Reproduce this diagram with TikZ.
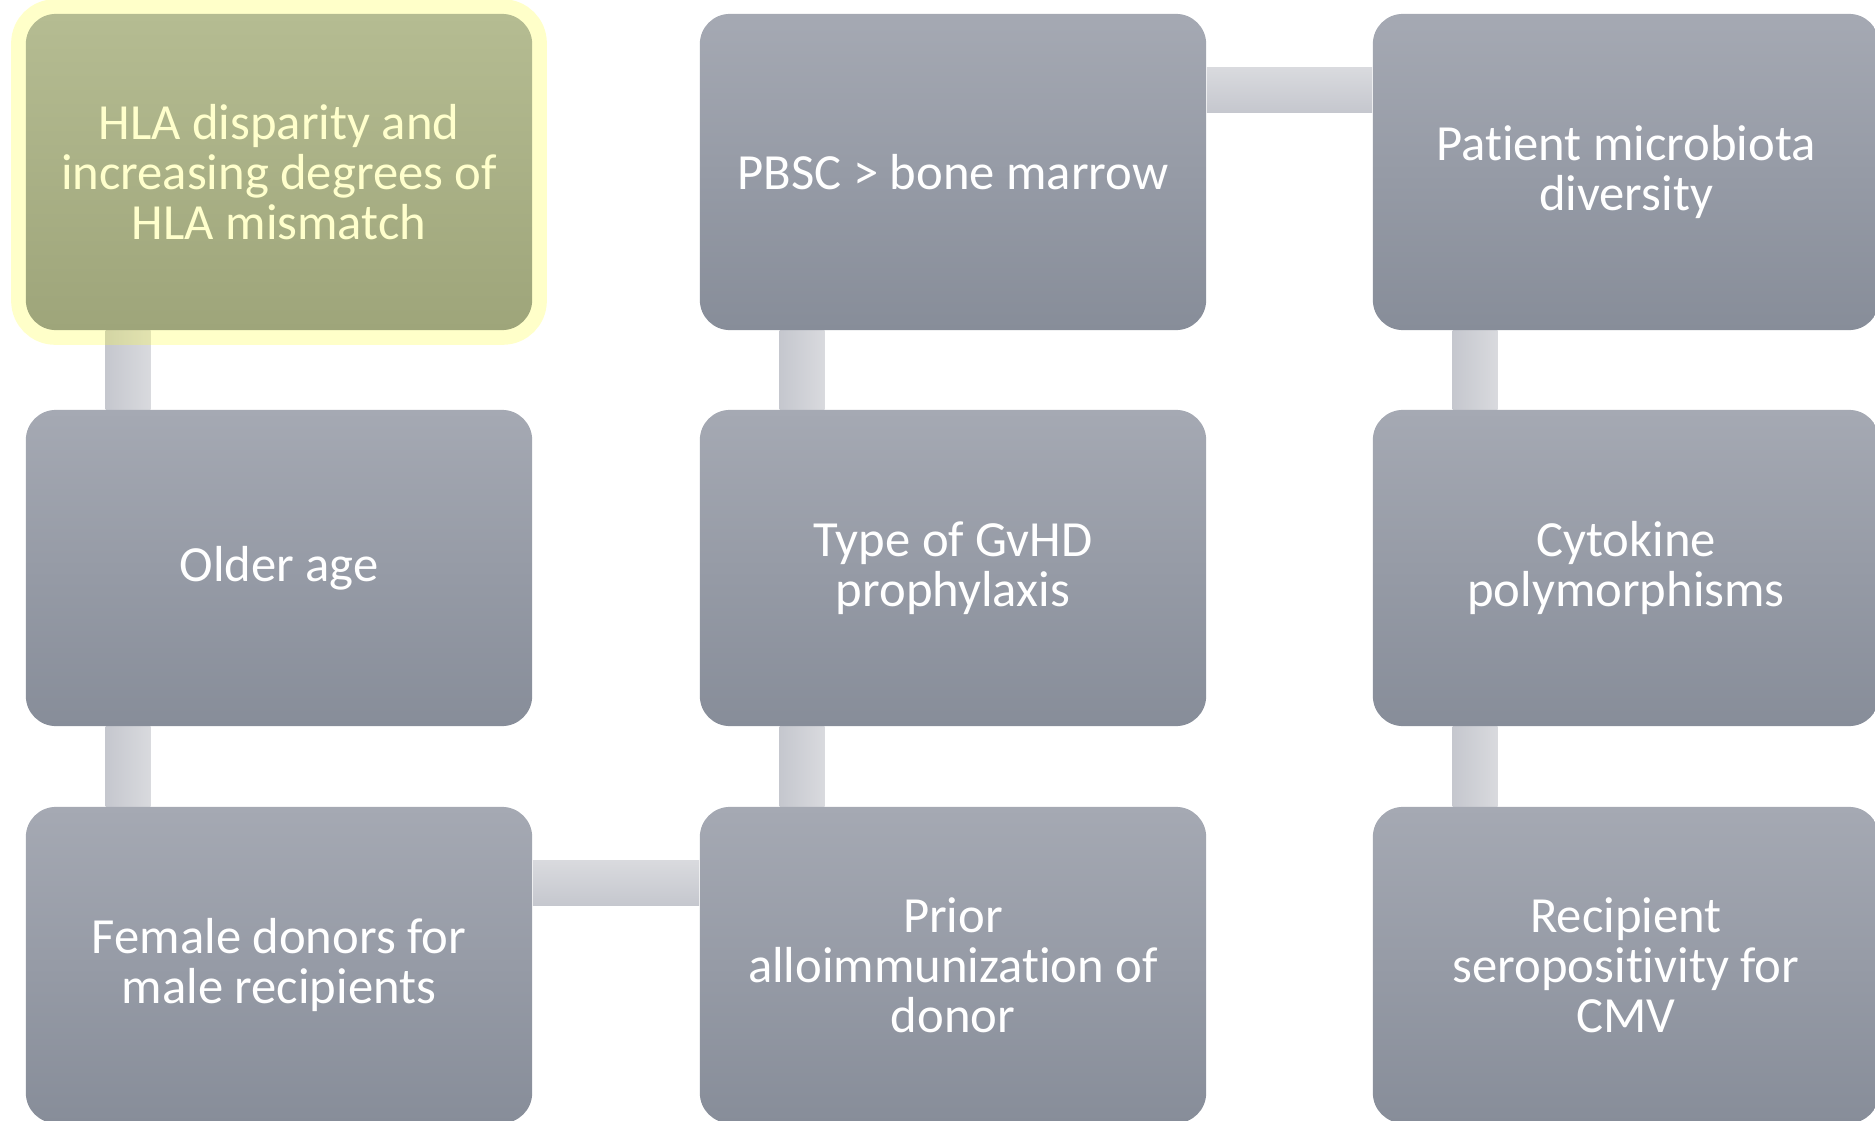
\documentclass[tikz,border=0pt]{standalone}
\usepackage{fontspec}
\setsansfont{Carlito}[RawFeature={-liga;-clig;-calt;-dlig}]
\usetikzlibrary{shapes}
\definecolor{BoxTop}{RGB}{165,169,179}
\definecolor{BoxBot}{RGB}{135,141,153}
\definecolor{HiTop}{RGB}{181,188,146}
\definecolor{HiBot}{RGB}{158,165,122}
\definecolor{HiText}{RGB}{255,255,204}
\definecolor{BarDark}{RGB}{197,199,206}
\definecolor{BarLight}{RGB}{217,218,222}
\definecolor{GlowCol}{RGB}{255,255,40}
\tikzstyle{factor} = [rectangle, rounded corners=0.3cm, minimum width=5.06cm, minimum height=3.16cm, top color=BoxTop, bottom color=BoxBot, text=white, align=center, font=\sffamily\fontsize{14.4}{14.2}\selectfont]
\tikzstyle{hifactor} = [factor, top color=HiTop, bottom color=HiBot, text=HiText]
\tikzstyle{vbar} = [left color=BarDark, right color=BarLight]
\tikzstyle{hbar} = [top color=BarLight, bottom color=BarDark]
\tikzstyle{glow} = [draw=GlowCol, draw opacity=0.25, line width=0.28cm, rounded corners=0.3cm]
\pgfdeclarelayer{bars}
\pgfdeclarelayer{halo}
\pgfsetlayers{bars,halo,main}

\begin{document}
\begin{tikzpicture}[x=0.01cm, y=-0.01cm]
    \useasboundingbox (0,0) rectangle (1875,1121);
    \node[hifactor] (hla) at (279,172) {HLA disparity and\\increasing degrees of\\HLA mismatch};
    \node[factor] (age) at (279,568) {Older age};
    \node[factor] (female) at (279,965) {Female donors for\\male recipients};
    \node[factor] (prior) at (953,965) {Prior\\alloimmunization of\\donor};
    \node[factor] (gvhd) at (953,568) {Type of GvHD\\prophylaxis};
    \node[factor] (pbsc) at (953,172) {PBSC > bone marrow};
    \node[factor] (microbiota) at (1626,172) {Patient microbiota\\diversity};
    \node[factor] (cytokine) at (1626,568) {Cytokine\\polymorphisms};
    \node[factor] (cmv) at (1626,965) {Recipient\\seropositivity for\\CMV};
    \begin{pgfonlayer}{halo}
        \draw[glow] (hla.south west) rectangle (hla.north east);
    \end{pgfonlayer}
    \begin{pgfonlayer}{bars}
        \shade[vbar] ([xshift=0.805cm]hla.south west) rectangle ([xshift=1.255cm]age.north west);
        \shade[vbar] ([xshift=0.805cm]age.south west) rectangle ([xshift=1.255cm]female.north west);
        \shade[hbar] ([yshift=-0.545cm]female.north east) rectangle ([yshift=-0.995cm]prior.north west);
        \shade[vbar] ([xshift=0.805cm]prior.north west) rectangle ([xshift=1.255cm]gvhd.south west);
        \shade[vbar] ([xshift=0.805cm]gvhd.north west) rectangle ([xshift=1.255cm]pbsc.south west);
        \shade[hbar] ([yshift=-0.545cm]pbsc.north east) rectangle ([yshift=-0.995cm]microbiota.north west);
        \shade[vbar] ([xshift=0.805cm]microbiota.south west) rectangle ([xshift=1.255cm]cytokine.north west);
        \shade[vbar] ([xshift=0.805cm]cytokine.south west) rectangle ([xshift=1.255cm]cmv.north west);
    \end{pgfonlayer}
\end{tikzpicture}
\end{document}
